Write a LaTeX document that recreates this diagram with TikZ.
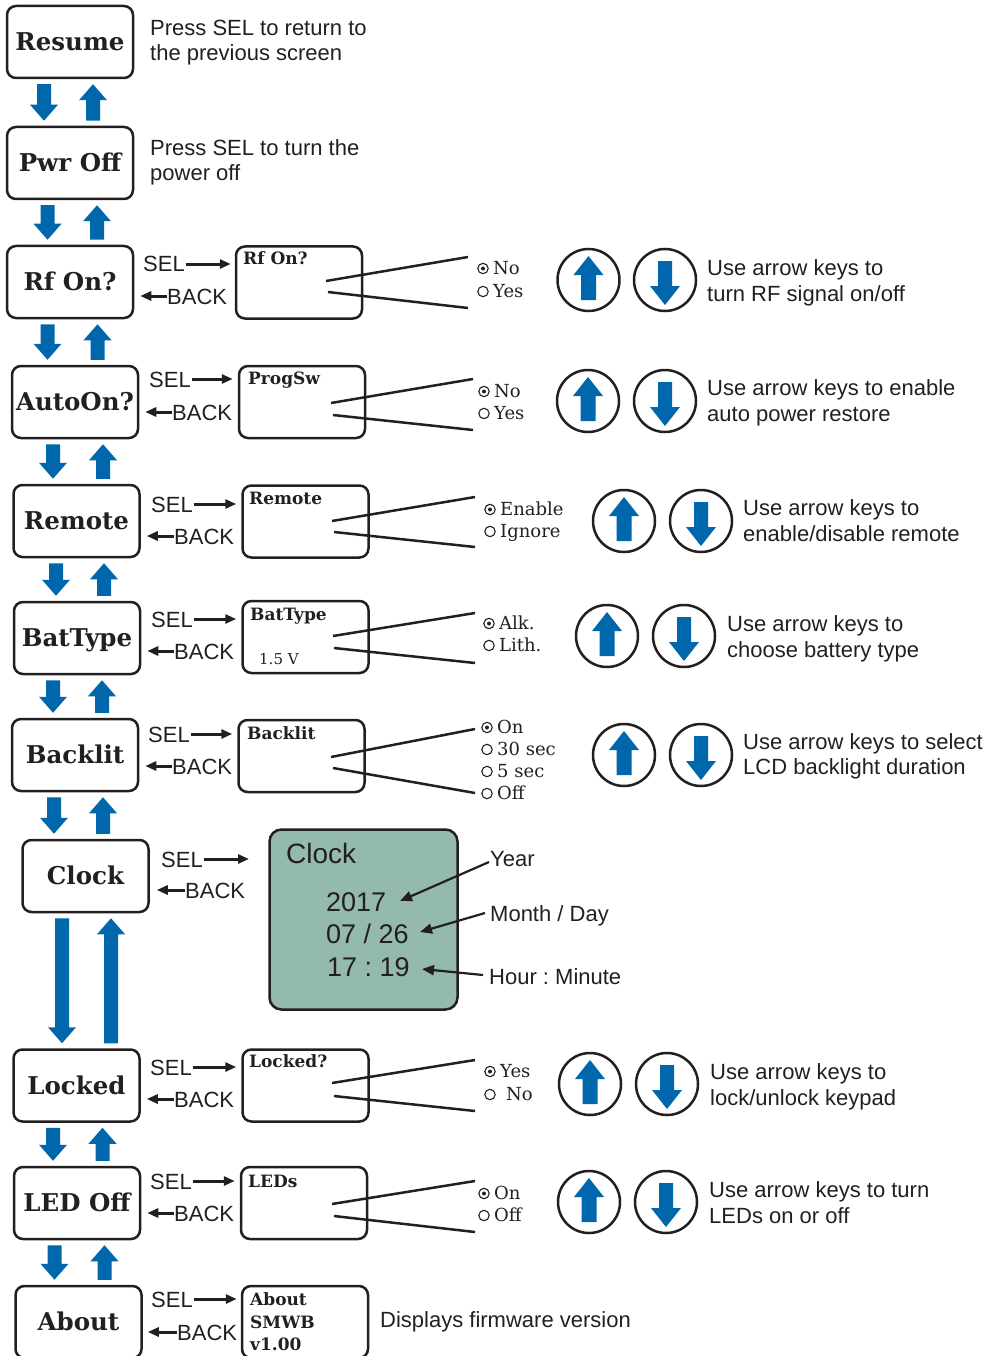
\documentclass[tikz,border=0pt]{standalone}
\usepackage{fontspec}
\setmainfont{DejaVu Serif}
\newfontfamily\sansf{Liberation Sans}
\usetikzlibrary{arrows.meta,calc}
\definecolor{ablue}{HTML}{0067AC}
\definecolor{ink}{HTML}{231F20}
\definecolor{lcd}{HTML}{93BAAC}
\frenchspacing

% pair of block arrows between two menu boxes: upper, lower, x of down arrow, x of up arrow
\newcommand{\vpair}[4]{%
 \fill[ablue] let \p1=(#1.south), \p2=(#2.north) in
 (#3pt-7pt,\y1-5pt) -- (#3pt+7pt,\y1-5pt) -- (#3pt+7pt,\y2+21pt) -- (#3pt+14pt,\y2+21pt) -- (#3pt,\y2+5pt) -- (#3pt-14pt,\y2+21pt) -- (#3pt-7pt,\y2+21pt) -- cycle
 (#4pt-7pt,\y2+5pt) -- (#4pt+7pt,\y2+5pt) -- (#4pt+7pt,\y1-21pt) -- (#4pt+14pt,\y1-21pt) -- (#4pt,\y1-5pt) -- (#4pt-14pt,\y1-21pt) -- (#4pt-7pt,\y1-21pt) -- cycle;}
\newcommand{\upglyph}[1]{%
 \fill[ablue] let \p1=(#1.center) in
 (\x1-7.5pt,\y1-20pt) -- (\x1+7.5pt,\y1-20pt) -- (\x1+7.5pt,\y1+5pt) -- (\x1+15pt,\y1+5pt) -- (\x1,\y1+24pt) -- (\x1-15pt,\y1+5pt) -- (\x1-7.5pt,\y1+5pt) -- cycle;}
\newcommand{\downglyph}[1]{%
 \fill[ablue] let \p1=(#1.center) in
 (\x1-7pt,\y1+19pt) -- (\x1+7pt,\y1+19pt) -- (\x1+7pt,\y1-6pt) -- (\x1+15pt,\y1-6pt) -- (\x1,\y1-25pt) -- (\x1-15pt,\y1-6pt) -- (\x1-7pt,\y1-6pt) -- cycle;}
\newcommand{\keypair}[4]{% name, x up, x down, y
 \node[keyc] (#1up) at (#2,#4) {};
 \node[keyc] (#1dn) at (#3,#4) {};
 \upglyph{#1up}\downglyph{#1dn}}
\newcommand{\radioon}[1]{%
 \draw[radio] ($(#1.base west)+(-10,-5.5)$) circle (5.2pt);
 \fill[ink] ($(#1.base west)+(-10,-5.5)$) circle (2pt);}
\newcommand{\radiooff}[1]{%
 \draw[radio] ($(#1.base west)+(-10,-5.5)$) circle (5.2pt);}

\tikzset{
 menu/.style={draw=ink, line width=2.5pt, rounded corners=9pt, minimum width=126pt, minimum height=72pt, inner sep=0pt,
   font=\fontsize{24.5}{28}\selectfont\bfseries, text=ink, text height=17.5pt, text depth=0pt},
 scr/.style={draw=ink, line width=2.5pt, rounded corners=9pt, minimum width=126pt, minimum height=72pt, inner sep=0pt},
 scrtitle/.style={anchor=base west, inner sep=0pt, font=\fontsize{17}{20}\selectfont\bfseries, text=ink},
 lbl/.style={anchor=base west, inner sep=0pt, font=\sansf\fontsize{22}{25}\selectfont, text=ink, text height=16pt, text depth=0pt},
 big/.style={anchor=base west, inner sep=0pt, font=\sansf\fontsize{27}{30}\selectfont, text=ink},
 opt/.style={anchor=base west, inner sep=0pt, font=\fontsize{18}{20}\selectfont, text=ink},
 radio/.style={draw=ink, line width=1.1pt},
 selarr/.style={draw=ink, line width=3pt, -{Triangle[length=11pt,width=9pt]}},
 clkarr/.style={draw=ink, line width=2.2pt, -{Triangle[length=12pt,width=10pt]}},
 wire/.style={draw=ink, line width=2.5pt},
 keyc/.style={circle, draw=ink, line width=2.5pt, minimum size=62pt, inner sep=0pt},
}

\begin{document}
\begin{tikzpicture}[x=1pt,y=-1pt]
\useasboundingbox (0,0) rectangle (988,1356);

% ---------- left menu column ----------
\node[menu] (res) at (70,42) {Resume};
\node[menu] (pwr) at (70,163) {Pwr Off};
\node[menu] (rf) at (70,282) {Rf On?};
\node[menu] (auto) at (75,402) {AutoOn?};
\node[menu] (remote) at (76.5,521) {Remote};
\node[menu] (bat) at (77,638) {BatType};
\node[menu] (backl) at (75,755) {Backlit};
\node[menu] (clock) at (85.5,876) {Clock};
\node[menu] (locked) at (76.5,1085.5) {Locked};
\node[menu] (led) at (77,1203) {LED Off};
\node[menu] (about) at (78.5,1322) {About};

\vpair{res}{pwr}{44}{93}
\vpair{pwr}{rf}{47.5}{97}
\vpair{rf}{auto}{47.5}{97.5}
\vpair{auto}{remote}{53}{103}
\vpair{remote}{bat}{56}{104}
\vpair{bat}{backl}{53}{102}
\vpair{backl}{clock}{54}{103}
\vpair{clock}{locked}{62}{111}
\vpair{locked}{led}{53}{102.5}
\vpair{led}{about}{54.5}{104.5}

% ---------- top notes ----------
\node[lbl] (n1a) at (150,36) {Press SEL to return to};
\node[lbl] (n1b) at (150,61) {the previous screen};
\node[lbl] (n2a) at (150,156) {Press SEL to turn the};
\node[lbl] (n2b) at (150,181) {power off};

% ---------- Rf On ----------
\node[scr] (rfs) at (299,282.5) {};
\node[scrtitle] (rft) at (243,264) {Rf On?};
\node[lbl] (rfsel) at (143,272) {SEL};
\node[lbl] (rfback) at (167,304) {BACK};
\draw[selarr, shorten <=1pt, shorten >=4pt] (rfsel.east) -- (rfs.west |- rfsel.east);
\draw[selarr, shorten >=6pt] (rfback.west) -- (rf.east |- rfback.west);
\draw[wire] (326,281) -- (468,257);
\draw[wire] (328,292) -- (468,308);
\node[opt] (rfno) at (493,274) {No};
\node[opt] (rfyes) at (493,297) {Yes};
\radioon{rfno}\radiooff{rfyes}
\keypair{rf}{588.5}{665}{280}
\node[lbl] (rfd1) at (707,275) {Use arrow keys to};
\node[lbl] (rfd2) at (707,301) {turn RF signal on/off};

% ---------- AutoOn ----------
\node[scr] (auts) at (302,402) {};
\node[scrtitle] (autt) at (248,384) {ProgSw};
\node[lbl] (autsel) at (149,387) {SEL};
\node[lbl] (autback) at (172,420) {BACK};
\draw[selarr, shorten <=1pt, shorten >=5pt] (autsel.east) -- (auts.west |- autsel.east);
\draw[selarr, shorten >=6pt] (autback.west) -- (auto.east |- autback.west);
\draw[wire] (331,403) -- (473,379);
\draw[wire] (333,415) -- (473,430);
\node[opt] (autno) at (494,397) {No};
\node[opt] (autyes) at (494,419) {Yes};
\radioon{autno}\radiooff{autyes}
\keypair{aut}{588}{665}{401}
\node[lbl] (autd1) at (707,395) {Use arrow keys to enable};
\node[lbl] (autd2) at (707,421) {auto power restore};

% ---------- Remote ----------
\node[scr] (rems) at (305.5,521.5) {};
\node[scrtitle] (remt) at (249,504) {Remote};
\node[lbl] (remsel) at (151,512) {SEL};
\node[lbl] (remback) at (174,544) {BACK};
\draw[selarr, shorten <=1pt, shorten >=5pt] (remsel.east) -- (rems.west |- remsel.east);
\draw[selarr, shorten >=6pt] (remback.west) -- (remote.east |- remback.west);
\draw[wire] (332,521) -- (475,497);
\draw[wire] (334,532) -- (475,547);
\node[opt] (remen) at (500,515) {Enable};
\node[opt] (remig) at (500,537) {Ignore};
\radioon{remen}\radiooff{remig}
\keypair{rem}{624}{701}{521}
\node[lbl] (remd1) at (743,515) {Use arrow keys to};
\node[lbl] (remd2) at (743,541) {enable/disable remote};

% ---------- BatType ----------
\node[scr] (bats) at (305.5,637) {};
\node[scrtitle] (batt) at (250,620) {BatType};
\node[anchor=base west, inner sep=0pt, font=\fontsize{15}{18}\selectfont, text=ink] (batv) at (259,664) {1.5 V};
\node[lbl] (batsel) at (151,627) {SEL};
\node[lbl] (batback) at (174,659) {BACK};
\draw[selarr, shorten <=1pt, shorten >=5pt] (batsel.east) -- (bats.west |- batsel.east);
\draw[selarr, shorten >=6pt] (batback.west) -- (bat.east |- batback.west);
\draw[wire] (333,636) -- (475,613);
\draw[wire] (334,648) -- (475,663);
\node[opt] (batalk) at (499,629) {Alk.};
\node[opt] (batlith) at (499,651) {Lith.};
\radioon{batalk}\radiooff{batlith}
\keypair{bat}{607}{684}{636}
\node[lbl] (batd1) at (727,631) {Use arrow keys to};
\node[lbl] (batd2) at (727,657) {choose battery type};

% ---------- Backlit ----------
\node[scr] (bls) at (301.5,756) {};
\node[scrtitle] (blt) at (247,739) {Backlit};
\node[lbl] (blsel) at (148,742) {SEL};
\node[lbl] (blback) at (172,774) {BACK};
\draw[selarr, shorten <=1pt, shorten >=5pt] (blsel.east) -- (bls.west |- blsel.east);
\draw[selarr, shorten >=6pt] (blback.west) -- (backl.east |- blback.west);
\draw[wire] (331,757) -- (475,729);
\draw[wire] (333,768) -- (475,793);
\node[opt] (blon) at (497,733) {On};
\node[opt] (bl30) at (497,755) {30 sec};
\node[opt] (bl5) at (497,777) {5 sec};
\node[opt] (bloff) at (497,799) {Off};
\radioon{blon}\radiooff{bl30}\radiooff{bl5}\radiooff{bloff}
\keypair{bl}{624}{701}{755}
\node[lbl] (bld1) at (743,749) {Use arrow keys to select};
\node[lbl] (bld2) at (743,774) {LCD backlight duration};

% ---------- Clock ----------
\node[draw=ink, fill=lcd, line width=2.5pt, rounded corners=12pt, minimum width=188pt, minimum height=180pt, inner sep=0pt] (clks) at (363.5,919.5) {};
\node[anchor=base west, inner sep=0pt, font=\sansf\fontsize{28}{32}\selectfont, text=ink] (clkt) at (286,863) {Clock};
\node[big] (yr) at (326,911) {2017};
\node[big] (md) at (326,943) {07 / 26};
\node[big] (hm) at (327,976) {17 : 19};
\node[lbl] (clksel) at (161,867) {SEL};
\node[lbl] (clkback) at (185,898) {BACK};
\coordinate (clkselend) at (249,0);
\draw[selarr, shorten <=1pt] (clksel.east) -- (clkselend |- clksel.east);
\draw[selarr, shorten >=7pt] (clkback.west) -- (clock.east |- clkback.west);
\node[lbl] (yrl) at (490,866) {Year};
\node[lbl] (mdl) at (490,921) {Month / Day};
\node[lbl] (hml) at (489,984) {Hour : Minute};
\coordinate (yrtip) at (400,901);
\coordinate (mdtip) at (420,932);
\coordinate (hmtip) at (422,969);
\draw[clkarr] ($(yrl.west)+(-1,4)$) -- (yrtip);
\draw[clkarr] ($(mdl.west)+(-5,0)$) -- (mdtip);
\draw[clkarr] ($(hml.west)+(-6,-1)$) -- (hmtip);

% ---------- Locked ----------
\node[scr] (lks) at (305.5,1085.5) {};
\node[scrtitle] (lkt) at (249,1067) {Locked?};
\node[lbl] (lksel) at (150,1075) {SEL};
\node[lbl] (lkback) at (174,1107) {BACK};
\draw[selarr, shorten <=1pt, shorten >=5pt] (lksel.east) -- (lks.west |- lksel.east);
\draw[selarr, shorten >=6pt] (lkback.west) -- (locked.east |- lkback.west);
\draw[wire] (332,1083) -- (475,1060);
\draw[wire] (334,1096) -- (475,1111);
\node[opt] (lkyes) at (500,1077) {Yes};
\node[opt] (lkno) at (506,1100) {No};
\radioon{lkyes}
\draw[radio] ($(lkno.base west)+(-16,-5.5)$) circle (5.2pt);
\keypair{lk}{590}{667}{1084}
\node[lbl] (lkd1) at (710,1079) {Use arrow keys to};
\node[lbl] (lkd2) at (710,1105) {lock/unlock keypad};

% ---------- LED Off ----------
\node[scr] (leds) at (304,1203) {};
\node[scrtitle] (ledt) at (248,1187) {LEDs};
\node[lbl] (ledsel) at (150,1189) {SEL};
\node[lbl] (ledback) at (174,1221) {BACK};
\draw[selarr, shorten <=1pt, shorten >=5pt] (ledsel.east) -- (leds.west |- ledsel.east);
\draw[selarr, shorten >=6pt] (ledback.west) -- (led.east |- ledback.west);
\draw[wire] (332,1204) -- (475,1181);
\draw[wire] (334,1216) -- (475,1232);
\node[opt] (ledon) at (494,1199) {On};
\node[opt] (ledoff) at (494,1221) {Off};
\radioon{ledon}\radiooff{ledoff}
\keypair{led}{589}{666}{1202}
\node[lbl] (ledd1) at (709,1197) {Use arrow keys to turn};
\node[lbl] (ledd2) at (709,1223) {LEDs on or off};

% ---------- About ----------
\node[scr] (abs) at (305,1322) {};
\node[scrtitle] (ab1) at (250,1305) {About};
\node[scrtitle] (ab2) at (250,1328) {SMWB};
\node[scrtitle] (ab3) at (250,1350) {v1.00};
\node[lbl] (absel) at (151,1307) {SEL};
\node[lbl] (abback) at (177,1340) {BACK};
\draw[selarr, shorten <=1pt, shorten >=4pt] (absel.east) -- (abs.west |- absel.east);
\draw[selarr, shorten >=5pt] (abback.west) -- (about.east |- abback.west);
\node[lbl] (abd) at (380,1327) {Displays firmware version};
\end{tikzpicture}
\end{document}
